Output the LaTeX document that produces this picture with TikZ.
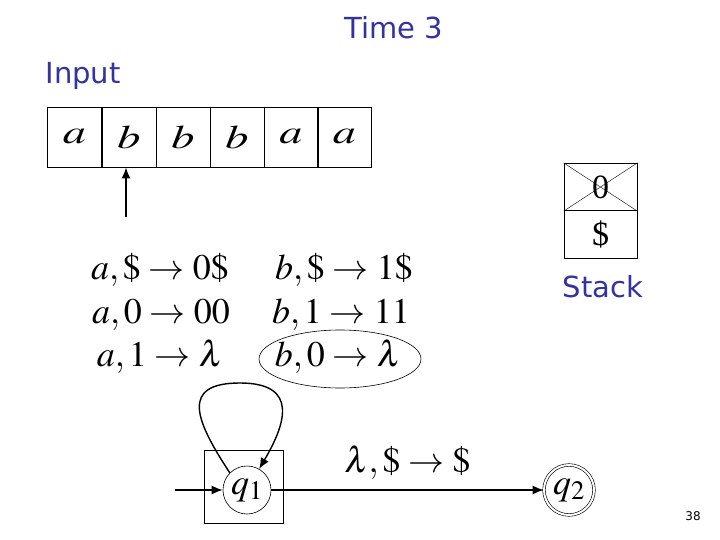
\documentclass[tikz,border=0pt]{standalone}
\usepackage{mathptmx}
\usepackage{fontspec}
\setmainfont{Liberation Serif}
\setsansfont{DejaVu Sans}
\usetikzlibrary{arrows.meta}
\definecolor{ttl}{RGB}{51,51,160}
\newcommand{\tapesym}[1]{\scalebox{1.4}[1]{$#1$}}
\tikzset{
  ttltext/.style={text=ttl,font=\sffamily\fontsize{29}{31}\selectfont,inner sep=0pt},
  cell/.style={draw,line width=0.8pt,minimum width=54pt,minimum height=60pt,inner sep=0pt,font=\fontsize{33}{35}\selectfont},
  rule/.style={font=\fontsize{36}{38}\selectfont,inner sep=0pt},
  stk/.style={draw,line width=0.8pt,minimum width=73pt,minimum height=47.5pt,inner sep=0pt,font=\fontsize{34}{36}\selectfont},
  st/.style={circle,draw,line width=0.6pt,minimum size=48pt,inner sep=0pt,font=\fontsize{36}{38}\selectfont},
  arr/.style={line width=1.4pt,-{Latex[length=11pt,width=9pt]}}
}
\begin{document}
\begin{tikzpicture}[x=1pt,y=-1pt]
\useasboundingbox (0,0) rectangle (720,540);
\node[ttltext] (title) at (394,28) {Time 3};
\node[ttltext] (inp) at (83,76) {Input};
% tape
\node[cell] (c1) at (74.5,137) {\tapesym{a}};
\node[cell] (c2) at (129,137) {\tapesym{b}};
\node[cell] (c3) at (183,137) {\tapesym{b}};
\node[cell] (c4) at (237,137) {\tapesym{b}};
\node[cell] (c5) at (291,137) {\tapesym{a}};
\node[cell] (c6) at (344.5,137) {\tapesym{a}};
\coordinate (hd) at (126,217);
\draw[arr] (hd) -- (hd |- c2.south);
% stack
\node[stk] (s1) at (600.5,187) {0};
\node[stk] (s2) at (600.5,234.5) {\$};
\draw[line width=0.4pt] (s1.north west) -- (s1.south east) (s1.south west) -- (s1.north east);
\node[ttltext] (stacklbl) at (603,287) {Stack};
% rules
\node[rule] (r1) at (160,270) {$a,\$\rightarrow 0\$$};
\node[rule] (r2) at (161,315) {$a,0\rightarrow 00$};
\node[rule] (r3) at (160,357) {$a,1\rightarrow \lambda$};
\node[rule] (r4) at (344,270) {$b,\$\rightarrow 1\$$};
\node[rule] (r5) at (341,315) {$b,1\rightarrow 11$};
\node[rule] (r6) at (338,357) {$b,0\rightarrow \lambda$};
\draw[line width=0.6pt] (340,359) ellipse [x radius=81pt, y radius=29pt];
% states
\node[draw,line width=0.6pt,minimum width=79pt,minimum height=73pt] (q1box) at (243.5,486.5) {};
\node[st] (q1) at (247,490) {$q_1$};
\node[st,double,double distance=2pt,minimum size=50pt] (q2) at (569,490) {$q_2$};
\coordinate (start) at (175,490);
\draw[arr] (start) -- (q1.west);
\draw[arr] (q1.135) .. controls (195,420) and (180,383) .. (240,383)
  .. controls (300,383) and (285,425) .. (q1.60);
\draw[arr] (q1.east) -- node[rule,above=10pt] (lab) {$\lambda,\$\rightarrow\$$} (q2.west);
\node[font=\sffamily\fontsize{12}{14}\selectfont] (pg) at (693,516) {38};
\end{tikzpicture}
\end{document}
